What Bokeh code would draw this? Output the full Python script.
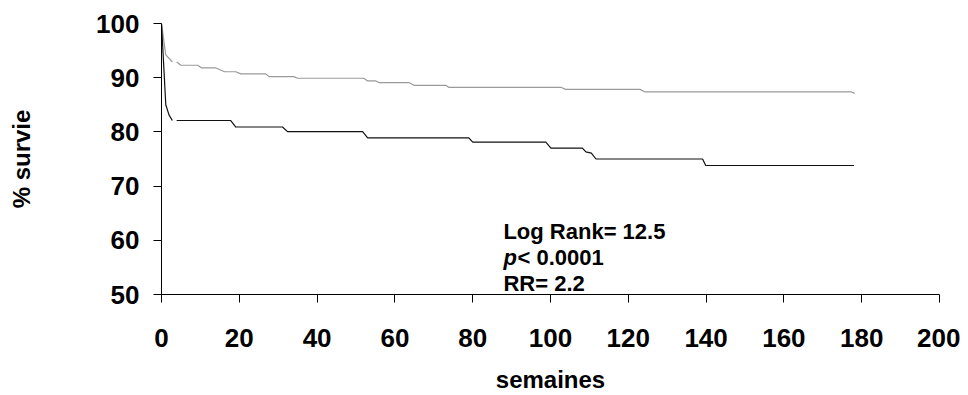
import math
from bokeh.plotting import figure
from bokeh.models import ColumnDataSource, FixedTicker, Range1d, Label
from bokeh.embed import file_html
from bokeh.resources import INLINE

nan = float("nan")

# Upper (gray) survival curve
gray_x = [0, 1.1, 2.8, nan, 3.9, 5.0, 9.3, 10.3, 14.0, 16.2, 19.1, 20.4, 26.8, 27.6,
          34.0, 35.0, 52.0, 53.0, 55.1, 55.9, 63.6, 64.9, 73.1, 73.9, 102.8, 103.9,
          123.0, 124.2, 177.2, 178.2]
gray_y = [100, 94.2, 92.9, nan, 92.9, 92.3, 92.3, 91.8, 91.8, 91.1, 91.1, 90.7, 90.7, 90.2,
          90.2, 89.9, 89.9, 89.4, 89.4, 89.1, 89.1, 88.6, 88.6, 88.2, 88.2, 87.85,
          87.85, 87.4, 87.4, 87.1]

# Lower (black) survival curve
black_x = [0, 0.5, 1.1, 1.95, 2.8, nan, 3.9, 17.8, 19.1, 31.1, 32.4, 51.7, 53.0, 79.0, 80.0,
           98.8, 100.1, 108.2, 109.1, 110.5, 111.7, 139.1, 139.9, 178.0]
black_y = [100, 93.2, 85.0, 83.1, 82.1, nan, 82.1, 82.1, 80.9, 80.9, 80.05, 80.05, 78.9, 78.9, 78.1,
           78.1, 77.0, 77.0, 76.3, 76.1, 75.0, 75.0, 73.8, 73.8]

x_ticks = [0, 20, 40, 60, 80, 100, 120, 140, 160, 180, 200]
y_ticks = [50, 60, 70, 80, 90, 100]

stat_lines = ["Log Rank= 12.5", "< 0.0001", "RR= 2.2"]

FONT = "Liberation Sans"

p = figure(width=960, height=395, output_backend="svg", toolbar_location=None,
           x_range=Range1d(0, 200), y_range=Range1d(50, 100),
           min_border_left=161, min_border_right=21, min_border_top=23, min_border_bottom=99)
p.outline_line_color = None
p.xgrid.visible = False
p.ygrid.visible = False
p.background_fill_color = "white"
p.border_fill_color = "white"

p.line(x="x", y="y", source=ColumnDataSource(dict(x=gray_x, y=gray_y)),
       line_color="#9a9a9a", line_width=1.2)
p.line(x="x", y="y", source=ColumnDataSource(dict(x=black_x, y=black_y)),
       line_color="#111111", line_width=1.2)

for ax, ticks in ((p.xaxis[0], x_ticks), (p.yaxis[0], y_ticks)):
    ax.ticker = FixedTicker(ticks=ticks)
    ax.minor_tick_line_color = None
    ax.major_tick_in = 0
    ax.major_tick_out = 8
    ax.axis_line_color = "black"
    ax.major_tick_line_color = "black"
    ax.major_label_text_font = FONT
    ax.major_label_text_font_style = "bold"
    ax.major_label_text_font_size = "26px"
    ax.major_label_text_color = "black"
    ax.axis_label_text_font = FONT
    ax.axis_label_text_font_style = "bold"
    ax.axis_label_text_font_size = "24px"
    ax.axis_label_text_color = "black"

p.xaxis.axis_label = "semaines"
p.yaxis.axis_label = "% survie"
p.xaxis.major_label_standoff = 26
p.yaxis.major_label_standoff = 14
p.xaxis.axis_label_standoff = 16
p.yaxis.axis_label_standoff = 58

ann_x = 87.9
ann_y = [61.65, 56.9, 52.0]
common = dict(text_font=FONT, text_font_size="22px", text_baseline="alphabetic",
              text_color="black")
p.add_layout(Label(x=ann_x, y=ann_y[0], text=stat_lines[0], text_font_style="bold", **common))
p.add_layout(Label(x=ann_x, y=ann_y[1], text="p", text_font_style="bold italic", **common))
p.add_layout(Label(x=ann_x + 3.6, y=ann_y[1], text=stat_lines[1], text_font_style="bold", **common))
p.add_layout(Label(x=ann_x, y=ann_y[2], text=stat_lines[2], text_font_style="bold", **common))

open("out.html", "w").write(file_html(p, INLINE))
